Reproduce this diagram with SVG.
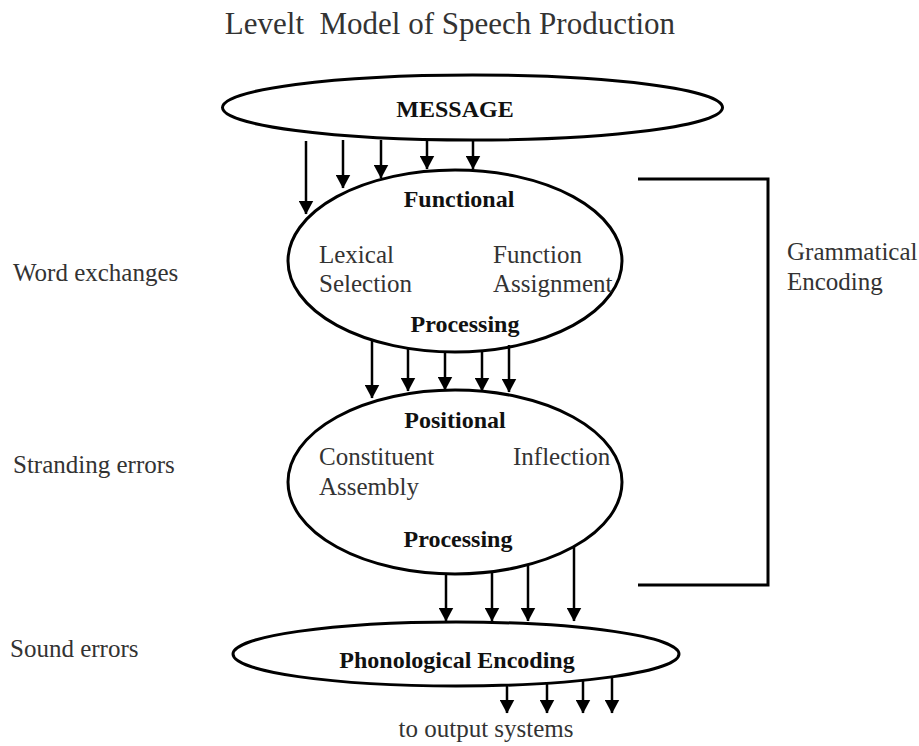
<svg xmlns="http://www.w3.org/2000/svg" width="919" height="746" viewBox="0 0 919 746">
<style>
.t{font-family:"Liberation Serif","Times New Roman",serif;font-size:25px;fill:#333}
.b{font-family:"Liberation Serif","Times New Roman",serif;font-size:24px;font-weight:bold;fill:#111}
.shape{fill:none;stroke:#000;stroke-width:3}
.arr{stroke:#000;stroke-width:2.5;fill:none;marker-end:url(#ah)}
</style>
<defs>
<marker id="ah" markerUnits="userSpaceOnUse" viewBox="0 0 14 15" markerWidth="14" markerHeight="15" refX="13.5" refY="7.5" orient="auto">
<path d="M0,0 L14,7.5 L0,15 z" fill="#000"/>
</marker>
</defs>
<rect width="919" height="746" fill="#fff"/>
<text class="t" x="450" y="34" text-anchor="middle" style="font-size:31px;white-space:pre" xml:space="preserve">Levelt  Model of Speech Production</text>

<g id="message">
<ellipse class="shape" cx="472.5" cy="107.5" rx="250" ry="32.5"/>
<text class="b" x="455" y="117" text-anchor="middle">MESSAGE</text>
</g>

<g id="functional">
<ellipse class="shape" cx="455" cy="261" rx="167" ry="91"/>
<text class="b" x="459" y="207" text-anchor="middle">Functional</text>
<text class="t" x="319" y="263">Lexical</text>
<text class="t" x="319" y="292">Selection</text>
<text class="t" x="493" y="263">Function</text>
<text class="t" x="493" y="292">Assignment</text>
<text class="b" x="465" y="332" text-anchor="middle">Processing</text>
</g>

<g id="positional">
<ellipse class="shape" cx="455" cy="482" rx="167" ry="92"/>
<text class="b" x="455" y="428" text-anchor="middle">Positional</text>
<text class="t" x="319" y="465">Constituent</text>
<text class="t" x="319" y="495">Assembly</text>
<text class="t" x="513" y="465">Inflection</text>
<text class="b" x="458" y="547" text-anchor="middle">Processing</text>
</g>

<g id="phonological">
<ellipse class="shape" cx="456" cy="654" rx="223" ry="32"/>
<text class="b" x="457" y="668" text-anchor="middle">Phonological Encoding</text>
</g>

<g id="bracket">
<path class="shape" d="M638,179 H768 V585 H638"/>
<text class="t" x="787" y="260">Grammatical</text>
<text class="t" x="787" y="290">Encoding</text>
</g>

<g id="labels">
<text class="t" x="13" y="281">Word exchanges</text>
<text class="t" x="13" y="473">Stranding errors</text>
<text class="t" x="10" y="657">Sound errors</text>
<text class="t" x="486" y="737" text-anchor="middle">to output systems</text>
</g>

<g id="connectors">
<line class="arr" x1="306" y1="141" x2="306" y2="214"/>
<line class="arr" x1="343" y1="140" x2="343" y2="188"/>
<line class="arr" x1="381" y1="140" x2="381" y2="178"/>
<line class="arr" x1="427" y1="140" x2="427" y2="169"/>
<line class="arr" x1="473" y1="140" x2="473" y2="169"/>

<line class="arr" x1="372" y1="340" x2="372" y2="398"/>
<line class="arr" x1="408" y1="348" x2="408" y2="391"/>
<line class="arr" x1="445" y1="351" x2="445" y2="390"/>
<line class="arr" x1="482" y1="350" x2="482" y2="391"/>
<line class="arr" x1="509" y1="345" x2="509" y2="392"/>

<line class="arr" x1="446" y1="573" x2="446" y2="621"/>
<line class="arr" x1="492" y1="571" x2="492" y2="621"/>
<line class="arr" x1="528" y1="564" x2="528" y2="621"/>
<line class="arr" x1="574" y1="547" x2="574" y2="621"/>

<line class="arr" x1="507" y1="685" x2="507" y2="713"/>
<line class="arr" x1="547" y1="684" x2="547" y2="713"/>
<line class="arr" x1="583" y1="681" x2="583" y2="713"/>
<line class="arr" x1="612" y1="678" x2="612" y2="713"/>
</g>
</svg>
